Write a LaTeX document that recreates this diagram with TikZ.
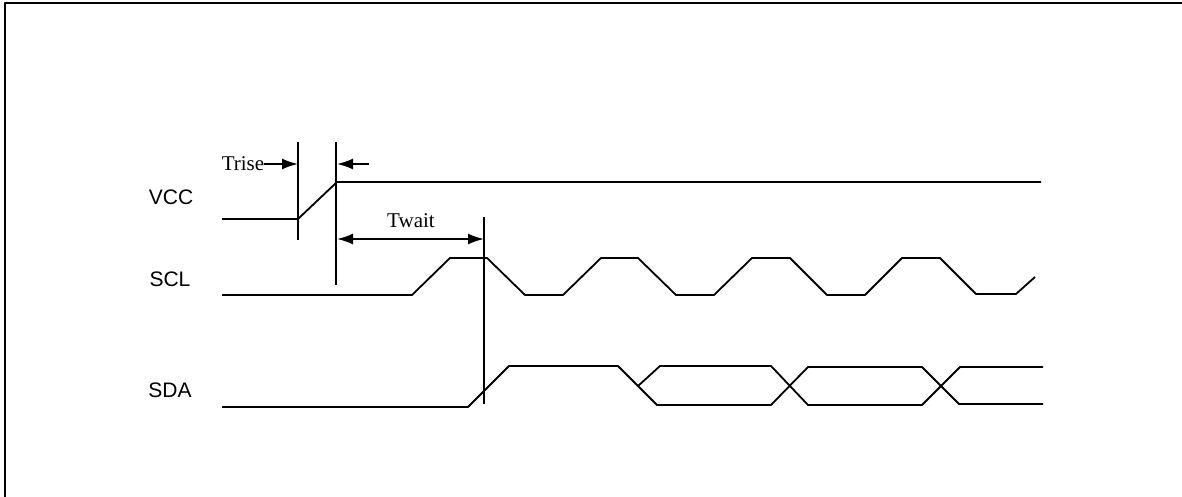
\documentclass[tikz,border=0pt]{standalone}
\usepackage{fontspec}
\setmainfont{Liberation Serif}
\setsansfont{Liberation Sans}
\usetikzlibrary{arrows.meta}
\begin{document}
\begin{tikzpicture}[>={Latex[length=16bp,width=11bp]},line join=bevel,
  every node/.style={inner sep=0pt},
  wave/.style={line width=1.8bp},
  mark line/.style={line width=1.8bp},
  sig/.style={font=\sffamily\fontsize{21bp}{24bp}\selectfont},
  lab/.style={font=\rmfamily\fontsize{21bp}{24bp}\selectfont},
]
%%
\useasboundingbox (0bp,0bp) rectangle (1182bp,497bp);
  \draw [line width=2bp] (5bp,0bp) -- (5bp,494bp) -- (1182bp,494bp);
  \node (vcc) at (171bp,300bp) [sig] {VCC};
  \node (scl) at (170bp,218bp) [sig] {SCL};
  \node (sda) at (170bp,107bp) [sig] {SDA};
  \node (trise) at (243bp,333bp) [lab] {Trise};
  \node (twait) at (411bp,276bp) [lab] {Twait};
  \coordinate (t1top) at (298bp,355bp);
  \coordinate (t1bot) at (298bp,257bp);
  \coordinate (t2top) at (336bp,355bp);
  \coordinate (t2bot) at (336bp,212bp);
  \coordinate (t3top) at (484bp,280bp);
  \coordinate (t3bot) at (484bp,93bp);
  \coordinate (t1arr) at (298bp,333bp);
  \coordinate (t2arr) at (337bp,333bp);
  \coordinate (t2out) at (369bp,333bp);
  \coordinate (w1) at (337bp,258bp);
  \coordinate (w2) at (484bp,258bp);
  \draw [mark line] (t1top) -- (t1bot);
  \draw [mark line] (t2top) -- (t2bot);
  \draw [mark line] (t3top) -- (t3bot);
  \draw [->,mark line] (trise) -- (t1arr);
  \draw [->,mark line] (t2out) -- (t2arr);
  \draw [<->,mark line] (w1) -- (w2);
  % vcc
  \draw [wave] (222bp,278bp) -- (298bp,278bp) -- (337bp,315bp) -- (1041bp,315bp);
  % scl
  \draw [wave] (222bp,202bp) -- (412bp,202bp) -- (450bp,239bp) -- (487bp,239bp)
    -- (525bp,202bp) -- (563bp,202bp) -- (601bp,239bp) -- (638bp,239bp)
    -- (676bp,202bp) -- (714bp,202bp) -- (752bp,239bp) -- (790bp,239bp)
    -- (827bp,202bp) -- (865bp,202bp) -- (902bp,239bp) -- (940bp,239bp)
    -- (976bp,203bp) -- (1016bp,203bp) -- (1035bp,220bp);
  % sda
  \draw [wave] (222bp,90bp) -- (468bp,90bp) -- (509bp,131bp) -- (618bp,131bp)
    -- (657bp,92bp) -- (771bp,92bp) -- (808bp,130bp) -- (922bp,130bp)
    -- (959bp,93bp) -- (1043bp,93bp);
  \draw [wave] (638bp,111bp) -- (660bp,131bp) -- (771bp,131bp) -- (808bp,92bp)
    -- (922bp,92bp) -- (960bp,130bp) -- (1043bp,130bp);
%
\end{tikzpicture}
\end{document}
